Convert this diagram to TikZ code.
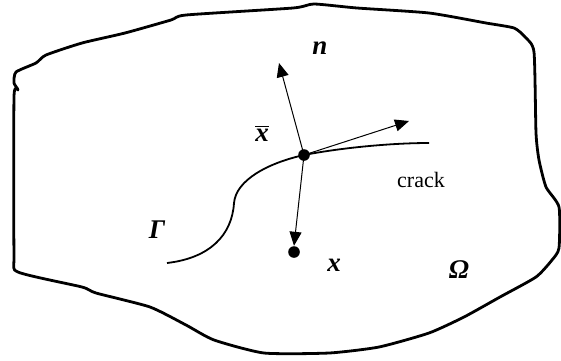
\documentclass[tikz,border=0pt]{standalone}
\usepackage{fontspec}
\setmainfont{Liberation Serif}
\usetikzlibrary{arrows.meta}
\begin{document}
\begin{tikzpicture}[x=0.5pt, y=-0.5pt,
		dot/.style = {circle, fill, inner sep=0pt, minimum size=5.8pt},
		vec/.style = {line width=0.5pt, -{Triangle[length=7pt, width=6pt]}},
		lbl/.style = {font=\fontsize{13.5}{15}\selectfont\bfseries\itshape}]
			\useasboundingbox (0,0) rectangle (561,360);
			
			% region Omega
			\draw [line width=1.4pt, line join=round] plot[smooth cycle, tension=0.35] coordinates {
				(16,72) (14,83) (18,90) (14,97) (14,253) (18,272) (82,287) (96,293)
				(150,307) (186,325) (214,340) (264,353) (329,353) (379,347) (429,333)
				(464,317) (500,297) (536,277) (552,260) (559,248) (559,207) (546,187)
				(539,160) (536,133) (534,52) (525,37) (514,28) (486,23) (429,13)
				(357,8) (314,4) (293,8) (186,15) (171,20) (125,33) (82,43) (46,55)
				(36,63)};
			
			\node[dot] (xbar) at (304,155) {};
			\node[dot] (xpt) at (294,252) {};
			\coordinate (ntip) at (279,63);
			\coordinate (ttip) at (409,121);
			
			% crack
			\draw [line width=0.9pt] (167,263) .. controls (210,258) and (232,235) .. (234,203)
				.. controls (236,180) and (268,163) .. (xbar.center)
				.. controls (340,148) and (390,143) .. (429,143);
			
			\draw [vec] (xbar.center) -- (ntip);
			\draw [vec] (xbar.center) -- (ttip);
			\draw [vec] (xbar.center) -- (xpt.north);
			
			\node[lbl] (n) at (320,48) {n};
			\node[lbl] (xb) at (262,133) {$\overline{\textbf{\textit{x}}}$};
			\node (crk) at (421,180) {\fontsize{11}{13}\selectfont crack};
			\node[lbl] (gam) at (157,230) {Γ};
			\node[lbl] (x) at (334,265) {x};
			\node[lbl] (om) at (459,270) {Ω};
			
		\end{tikzpicture}
\end{document}
